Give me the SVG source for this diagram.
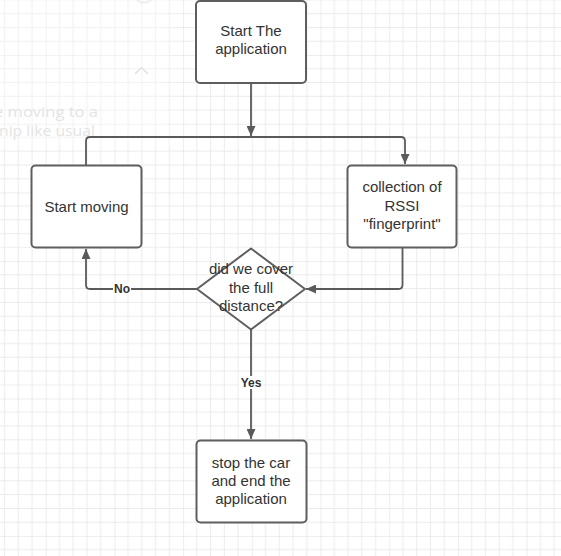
<svg xmlns="http://www.w3.org/2000/svg" width="561" height="556" viewBox="0 0 561 556">
<defs>
<pattern id="grid" patternUnits="userSpaceOnUse" x="-23" y="-13.7" width="68.7" height="68.7">
<path d="M13.74,0V68.7M27.48,0V68.7M41.22,0V68.7M54.96,0V68.7M0,13.74H68.7M0,27.48H68.7M0,41.22H68.7M0,54.96H68.7" stroke="#ebebeb" stroke-width="1" fill="none"/>
<path d="M0,0V68.7M0,0H68.7" stroke="#dcdcdc" stroke-width="1" fill="none"/>
</pattern>
<marker id="arr" markerUnits="userSpaceOnUse" markerWidth="11" markerHeight="9" refX="10" refY="4.5" orient="auto">
<path d="M0,0 L10,4.5 L0,9 z" fill="#5a5a5a"/>
</marker>
<filter id="soft" x="-20%" y="-20%" width="140%" height="140%"><feGaussianBlur stdDeviation="6"/></filter>
</defs>
<style>
.box{fill:#ffffff;stroke:#5e5e5e;stroke-width:2}
.t{font-family:"Liberation Sans",Arial,sans-serif;font-size:15px;fill:#333333;text-anchor:middle}
.lbl{font-family:"Liberation Sans",Arial,sans-serif;font-size:12px;font-weight:bold;fill:#333333;text-anchor:middle}
.edge{fill:none;stroke:#5a5a5a;stroke-width:1.8}
.ghost{font-family:"Open Sans","Liberation Sans",sans-serif;font-size:15px;fill:#e4e4e4}
</style>
<rect width="561" height="556" fill="#ffffff"/>
<rect width="561" height="556" fill="url(#grid)"/>
<rect x="-20" y="-20" width="190" height="165" fill="#ffffff" opacity="0.35" filter="url(#soft)"/>
<g id="ghost">
<text class="ghost" x="-6" y="117" textLength="104" lengthAdjust="spacingAndGlyphs">e moving to a</text>
<text class="ghost" x="-1" y="136" textLength="96" lengthAdjust="spacingAndGlyphs">nip like usual</text>
<path d="M135,74 L141.5,67.5 L148,74" fill="none" stroke="#e2e2e2" stroke-width="1.5"/>
<path d="M137,0 A8,5 0 0 0 151,0" fill="none" stroke="#ececec" stroke-width="1.5"/>
</g>
<g id="connectors">
<path class="edge" d="M251,83 V136" marker-end="url(#arr)"/>
<path class="edge" d="M86,165 V141 Q86,137 90,137 H401 Q405,137 405,141 V164" marker-end="url(#arr)"/>
<path class="edge" d="M402.5,248 V285 Q402.5,289 398.5,289 H306" marker-end="url(#arr)"/>
<path class="edge" d="M197,289 H90 Q86,289 86,285 V249" marker-end="url(#arr)"/>
<path class="edge" d="M251,330 V439" marker-end="url(#arr)"/>
<rect x="113" y="282" width="18" height="13" fill="#ffffff"/>
<text class="lbl" x="122" y="292.5">No</text>
<rect x="239" y="376" width="24" height="13" fill="#ffffff"/>
<text class="lbl" x="251" y="386.5">Yes</text>
</g>
<g id="start">
<rect class="box" x="196" y="1" width="110" height="82" rx="4"/>
<text class="t" x="251" y="35.5">Start The</text>
<text class="t" x="251" y="53.8">application</text>
</g>
<g id="moving">
<rect class="box" x="31.5" y="165.5" width="110" height="82" rx="4"/>
<text class="t" x="86.5" y="211.5">Start moving</text>
</g>
<g id="collect">
<rect class="box" x="347.5" y="165.5" width="109" height="82" rx="4"/>
<text class="t" x="402" y="192">collection of</text>
<text class="t" x="402" y="210.5">RSSI</text>
<text class="t" x="402" y="229">"fingerprint"</text>
</g>
<g id="decision">
<path class="box" d="M251,248.5 L305,289 L251,329.5 L197,289 Z" stroke-linejoin="round"/>
<text class="t" x="251" y="274">did we cover</text>
<text class="t" x="251" y="292.5">the full</text>
<text class="t" x="251" y="311">distance?</text>
</g>
<g id="stop">
<rect class="box" x="196.5" y="440.5" width="110" height="82" rx="4"/>
<text class="t" x="251" y="467.5">stop the car</text>
<text class="t" x="251" y="486">and end the</text>
<text class="t" x="251" y="504">application</text>
</g>
</svg>
